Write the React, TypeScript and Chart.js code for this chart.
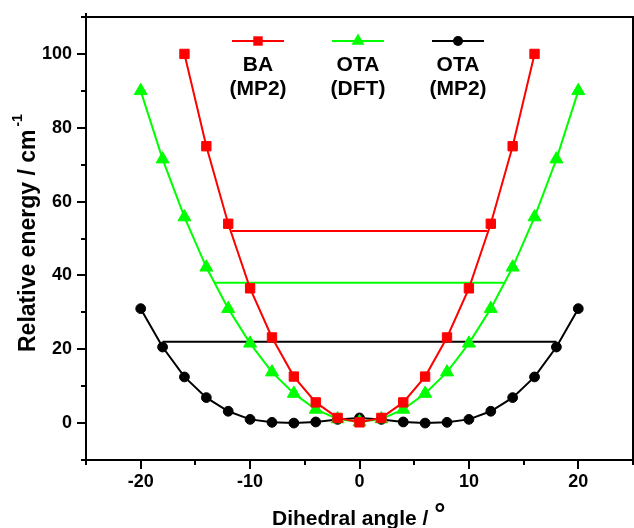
import React, { useEffect, useRef } from 'react';
import { Chart, registerables } from 'chart.js';

Chart.register(...registerables);

// ---- data ----
const angles = [-20, -18, -16, -14, -12, -10, -8, -6, -4, -2, 0, 2, 4, 6, 8, 10, 12, 14, 16, 18, 20];
const baMP2 = [null, null, 100, 75, 54, 36.5, 23.2, 12.6, 5.6, 1.4, 0.2, 1.4, 5.6, 12.6, 23.2, 36.5, 54, 75, 100, null, null];
const otaDFT = [90, 71.5, 55.8, 42.2, 31, 21.6, 13.8, 8, 3.7, 1.1, 0.3, 1.1, 3.7, 8, 13.8, 21.6, 31, 42.2, 55.8, 71.5, 90];
const otaMP2 = [31, 20.6, 12.5, 6.9, 3.2, 1.0, 0.2, 0, 0.3, 1.0, 1.4, 1.0, 0.3, 0, 0.2, 1.0, 3.2, 6.9, 12.5, 20.6, 31];

// zero-point levels (horizontal lines): energy and half-width in degrees
const levelEnergies = [52, 38, 22];
const levelHalfWidths = [11.7, 13.2, 18.0];

const seriesLabels = [['BA', '(MP2)'], ['OTA', '(DFT)'], ['OTA', '(MP2)']];
const seriesColors = ['#ff0000', '#00ff00', '#000000'];
const seriesMarkers = ['rect', 'triangle', 'circle'];

const xRange = [-25, 25];
const xMinorStep = 5;
const xLabelStep = 10;
const xLabelLimit = 20;
const yRange = [-10, 110];
const yMinorStep = 10;
const yLabelStep = 20;

const xTitle = 'Dihedral angle / ';
const xTitleSup = '°';
const yTitle = 'Relative energy / cm';
const yTitleSup = '-1';

const FONT = '"Liberation Sans", Arial, Helvetica, sans-serif';

function toPoints(values: (number | null)[]) {
  const pts: { x: number; y: number }[] = [];
  values.forEach((v, i) => {
    if (v !== null && v !== undefined) pts.push({ x: angles[i], y: v });
  });
  return pts;
}

function drawMarker(ctx: CanvasRenderingContext2D, style: string, x: number, y: number, color: string) {
  ctx.save();
  ctx.fillStyle = color;
  ctx.beginPath();
  if (style === 'rect') {
    const s = 4.7;
    ctx.rect(x - s, y - s, 2 * s, 2 * s);
  } else if (style === 'triangle') {
    const r = 7.5;
    ctx.moveTo(x, y - r);
    ctx.lineTo(x + r * 0.866, y + r * 0.5);
    ctx.lineTo(x - r * 0.866, y + r * 0.5);
    ctx.closePath();
  } else {
    ctx.arc(x, y, 5, 0, Math.PI * 2);
  }
  ctx.fill();
  ctx.restore();
}

const decorPlugin = {
  id: 'decor',
  afterDraw(chart: any) {
    const ctx: CanvasRenderingContext2D = chart.ctx;
    const { left, right, top, bottom } = chart.chartArea;
    const xs = chart.scales.x;
    const ys = chart.scales.y;
    ctx.save();
    ctx.strokeStyle = '#000';
    ctx.lineWidth = 2;
    ctx.lineCap = 'butt';
    // frame
    ctx.beginPath();
    ctx.moveTo(left, top - 4);
    ctx.lineTo(left, bottom);
    ctx.moveTo(left - 1, top);
    ctx.lineTo(right, top);
    ctx.lineTo(right, bottom);
    ctx.moveTo(left - 1, bottom);
    ctx.lineTo(right + 1, bottom);
    ctx.stroke();
    // y ticks
    ctx.beginPath();
    for (let v = yRange[0]; v <= yRange[1] + 1e-9; v += yMinorStep) {
      const py = Math.round(ys.getPixelForValue(v));
      const len = v % yLabelStep === 0 ? 9 : 5;
      ctx.moveTo(left - len, py);
      ctx.lineTo(left, py);
    }
    // x ticks
    for (let v = xRange[0]; v <= xRange[1] + 1e-9; v += xMinorStep) {
      const px = Math.round(xs.getPixelForValue(v));
      const len = v % xLabelStep === 0 ? 9 : 5;
      ctx.moveTo(px, bottom);
      ctx.lineTo(px, bottom + len);
    }
    ctx.stroke();

    // legend
    const legendX = [258, 358, 458];
    const legendY = 41;
    for (let i = 0; i < 3; i++) {
      const cx = legendX[i];
      ctx.strokeStyle = seriesColors[i];
      ctx.lineWidth = 2;
      ctx.beginPath();
      ctx.moveTo(cx - 26, legendY);
      ctx.lineTo(cx + 26, legendY);
      ctx.stroke();
      drawMarker(ctx, seriesMarkers[i], cx, legendY, seriesColors[i]);
      ctx.fillStyle = '#000';
      ctx.font = `bold 21px ${FONT}`;
      ctx.textAlign = 'center';
      ctx.textBaseline = 'alphabetic';
      ctx.fillText(seriesLabels[i][0], cx, 71);
      ctx.fillText(seriesLabels[i][1], cx, 95);
    }

    // x title
    ctx.fillStyle = '#000';
    ctx.textAlign = 'left';
    ctx.textBaseline = 'alphabetic';
    ctx.font = `bold 21px ${FONT}`;
    ctx.fillText(xTitle, 272, 524.5);
    const wx = ctx.measureText(xTitle.trimEnd()).width;
    ctx.font = `bold 28px ${FONT}`;
    ctx.fillText(xTitleSup, 272 + wx + 6, 523);

    // y title
    ctx.save();
    ctx.translate(35, 352);
    ctx.rotate(-Math.PI / 2);
    ctx.font = `bold 23px ${FONT}`;
    ctx.fillText(yTitle, 0, 0);
    const wy = ctx.measureText(yTitle).width;
    ctx.font = `bold 14px ${FONT}`;
    ctx.fillText(yTitleSup, wy + 3, -13);
    ctx.restore();

    ctx.restore();
  },
};

function zeroPadding(s: any) {
  s.paddingLeft = 0;
  s.paddingRight = 0;
  s.paddingTop = 0;
  s.paddingBottom = 0;
}

export default function App() {
  const ref = useRef<HTMLCanvasElement | null>(null);

  useEffect(() => {
    if (!ref.current) return;
    const series = [baMP2, otaDFT, otaMP2];
    const datasets: any[] = series.map((vals, i) => ({
      label: seriesLabels[i].join(' '),
      data: toPoints(vals),
      showLine: true,
      borderColor: seriesColors[i],
      backgroundColor: seriesColors[i],
      pointBackgroundColor: seriesColors[i],
      pointBorderColor: seriesColors[i],
      pointStyle: seriesMarkers[i],
      pointRadius: seriesMarkers[i] === 'rect' ? 6.6 : seriesMarkers[i] === 'triangle' ? 7.5 : 4.9,
      pointBorderWidth: 1,
      borderWidth: 2,
      order: i,
    }));
    levelEnergies.forEach((e, i) => {
      datasets.push({
        label: 'level ' + seriesLabels[i].join(' '),
        data: [
          { x: -levelHalfWidths[i], y: e },
          { x: levelHalfWidths[i], y: e },
        ],
        showLine: true,
        borderColor: seriesColors[i],
        borderWidth: 2,
        pointRadius: 0,
        order: 5 + i,
      });
    });

    const tickFont = { family: FONT, size: 18, weight: 'bold' as const };
    const chart = new Chart(ref.current, {
      type: 'scatter',
      data: { datasets },
      options: {
        responsive: false,
        animation: false,
        layout: { autoPadding: false, padding: { top: 17, right: 1, left: 0, bottom: 0 } },
        plugins: { legend: { display: false }, tooltip: { enabled: false } },
        scales: {
          x: {
            type: 'linear',
            min: xRange[0],
            max: xRange[1],
            grid: { display: false, drawTicks: false },
            border: { display: false },
            ticks: {
              stepSize: xMinorStep,
              autoSkip: false,
              maxRotation: 0,
              padding: 11,
              color: '#000',
              font: tickFont,
              callback: (v: any) =>
                Number(v) % xLabelStep === 0 && Math.abs(Number(v)) <= xLabelLimit ? String(v) : '',
            },
            afterFit: (s: any) => {
              s.height = 68;
              zeroPadding(s);
            },
          },
          y: {
            type: 'linear',
            min: yRange[0],
            max: yRange[1],
            grid: { display: false, drawTicks: false },
            border: { display: false },
            ticks: {
              stepSize: yMinorStep,
              autoSkip: false,
              padding: 14,
              color: '#000',
              font: tickFont,
              callback: (v: any) => (Number(v) % yLabelStep === 0 ? String(v) : ''),
            },
            afterFit: (s: any) => {
              s.width = 86;
              zeroPadding(s);
            },
          },
        },
      },
      plugins: [decorPlugin],
    });
    return () => chart.destroy();
  }, []);

  return (
    <div style={{ position: 'fixed', left: 0, top: 0, width: 634, height: 528, background: '#fff' }}>
      <canvas ref={ref} width={634} height={528} style={{ display: 'block' }} />
    </div>
  );
}
